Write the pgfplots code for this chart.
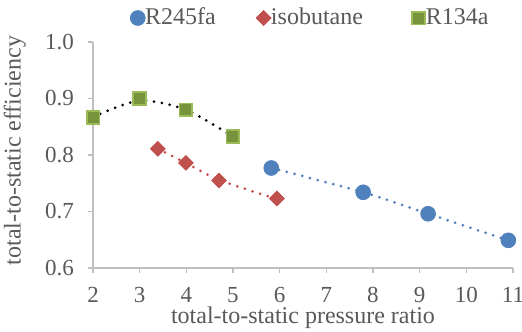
\documentclass[border=0pt]{standalone}
\usepackage{pgfplots}
\pgfplotsset{compat=1.18}
\usepackage{fontspec}
\setmainfont{Liberation Serif}
\newfontfamily\tms{Liberation Serif}
\newcommand\tkf{\tms\fontsize{11.5}{13}\selectfont}
\newcommand\lgf{\tms\fontsize{12}{13}\selectfont}
\definecolor{cblue}{HTML}{4F81BD}
\definecolor{cred}{HTML}{C0504D}
\definecolor{cgreen}{HTML}{77933C}
\definecolor{cgreenb}{HTML}{9BBB59}
\definecolor{txt}{HTML}{595959}
\definecolor{axc}{HTML}{BFBFBF}
\begin{document}
\begin{tikzpicture}
\useasboundingbox (-46.5pt,-31.5pt) rectangle (214.5pt,134pt);
\begin{axis}[
  at={(0,0)}, anchor=south west,
  scale only axis, width=210pt, height=113pt,
  xmin=2, xmax=11, ymin=0.6, ymax=1.0,
  xtick={2,3,...,11}, ytick={0.6,0.7,0.8,0.9,1.0},
  axis x line=bottom, axis y line=left,
  axis line style={-, draw=axc, line width=0.8pt},
  tick style={draw=axc, line width=0.8pt},
  tick align=outside, major tick length=2.5pt,
  /pgf/number format/assume math mode=true,
  xticklabel={\tkf\pgfmathprintnumber{\tick}},
  yticklabel={\tkf\pgfmathprintnumber[fixed,fixed zerofill,precision=1]{\tick}},
  every tick label/.append style={text=txt},
  yticklabel style={xshift=-3.5pt},
  xticklabel style={yshift=-3.5pt},
  label style={font=\lgf, text=txt},
  xlabel={total-to-static pressure ratio},
  ylabel={total-to-static efficiency},
  xlabel style={at={(axis description cs:0.5,-0.22)}, anchor=center},
  ylabel style={at={(axis description cs:-0.186,0.52)}, anchor=center},
  legend columns=3,
  legend style={draw=none, fill=none, inner sep=0pt, at={(0.0857,1.0)}, anchor=west, yshift=12pt,
    font=\lgf, text=txt,
    /tikz/every even column/.append style={column sep=0pt},
    /tikz/every odd column/.append style={column sep=-2.5pt}},
  legend cell align=left,
  legend image code/.code={\path (-4pt,0pt) (4pt,0pt); \draw[#1] plot coordinates {(0pt,0pt)};},
  clip=false,
]
% trendlines (red, blue) under markers
\addplot[cred, line width=1.5pt, dash pattern=on 0pt off 4pt, line cap=round, smooth, forget plot]
  coordinates {(3.39,0.811)(3.99,0.786)(4.70,0.756)(5.94,0.722)};
\addplot[cblue, line width=1.5pt, dash pattern=on 0pt off 4pt, line cap=round, smooth, forget plot]
  coordinates {(5.82,0.777)(7.79,0.734)(9.18,0.696)(10.90,0.649)};
% markers
\addplot[only marks, mark=*, mark size=3.7pt, mark options={fill=cblue, draw=cblue}]
  coordinates {(5.82,0.777)(7.79,0.734)(9.18,0.696)(10.90,0.649)};
\addlegendentry{\makebox[53pt][l]{\lgf R245fa}}
\addplot[only marks, mark=square*, mark size=2.6pt, mark options={fill=cred, draw=cred, rotate=45}]
  coordinates {(3.39,0.811)(3.99,0.786)(4.70,0.755)(5.94,0.723)};
\addlegendentry{\makebox[67.5pt][l]{\lgf isobutane}}
\addplot[only marks, mark=square*, mark size=3.2pt, mark options={fill=cgreen, draw=cgreenb, line width=0.9pt}]
  coordinates {(2.0,0.866)(2.99,0.900)(3.99,0.880)(5.0,0.833)};
\addlegendentry{\lgf R134a}
% R134a trendline on top
\addplot[black, line width=1.5pt, dash pattern=on 0pt off 4pt, line cap=round, smooth, forget plot]
  coordinates {(2.0,0.867)(2.99,0.896)(3.99,0.880)(5.0,0.832)};
\end{axis}
\end{tikzpicture}
\end{document}
